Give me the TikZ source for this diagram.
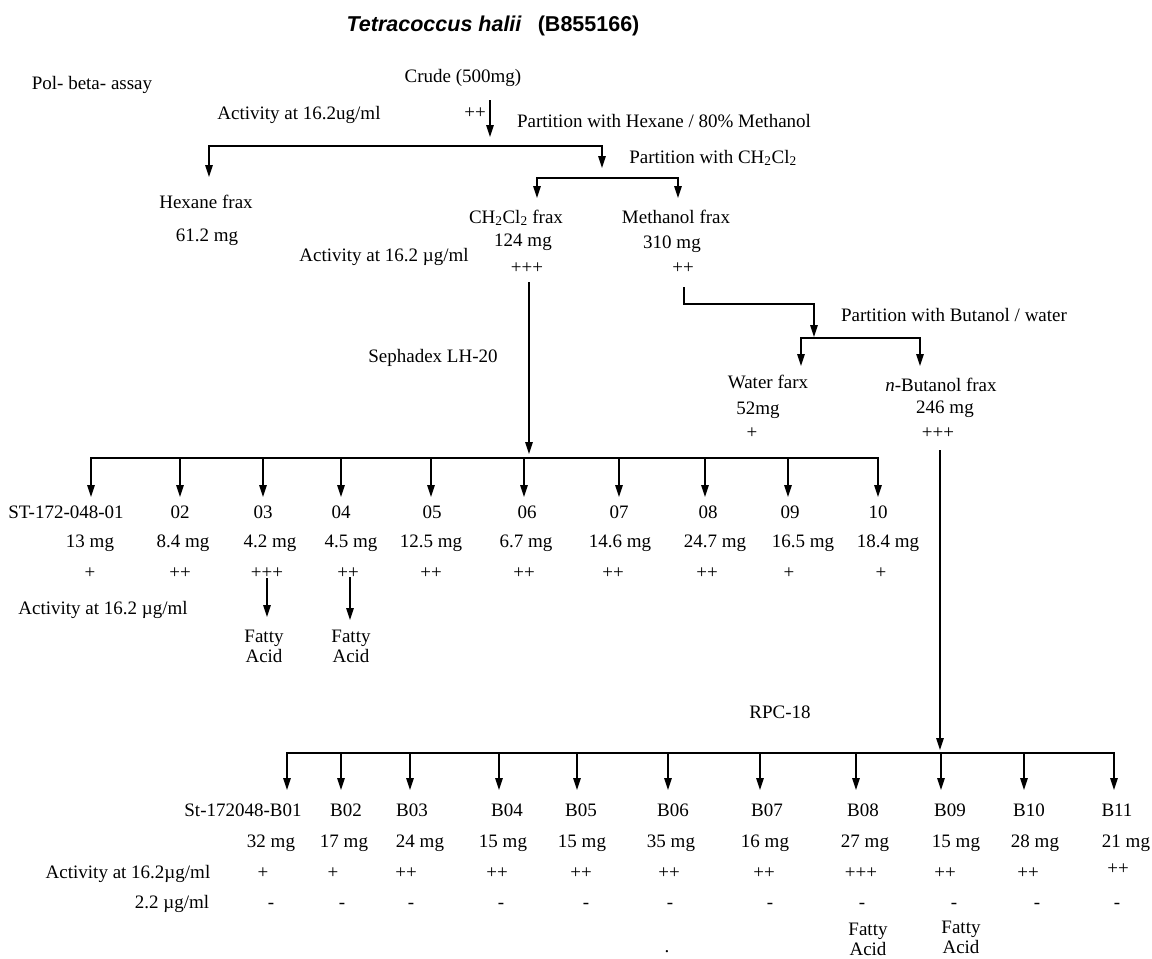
\documentclass[tikz,border=0pt]{standalone}
\usepackage{fontspec}
\setmainfont{Liberation Serif}
\newfontfamily\titlefont{Liberation Sans}
\usetikzlibrary{arrows.meta}
\begin{document}
\begin{tikzpicture}[x=1pt,y=-1pt,
  lbl/.style={inner sep=0pt,anchor=base,font=\fontsize{19}{20}\selectfont},
  two/.style={inner sep=0pt,align=center,anchor=north,font=\fontsize{19}{20}\selectfont},
  ln/.style={line width=1.5pt},
  hl/.style={line width=1.5pt,line cap=rect},
  arr/.style={line width=1.5pt,-{Triangle[length=12pt,width=7.5pt]}}]
\useasboundingbox (0,0) rectangle (1152,959);
% title
\node[inner sep=0pt,anchor=base,font=\titlefont\fontsize{21.5}{24}\selectfont\bfseries] (title) at (493,31) {\textit{Tetracoccus halii}\hspace{16pt}(B855166)};
% top part
\node[lbl] (pol) at (92,89) {Pol- beta- assay};
\node[lbl] (crude) at (463,82) {Crude (500mg)};
\node[lbl] (act1) at (299,119) {Activity at 16.2ug/ml};
\node[lbl] (crudepl) at (475,118) {++};
\node[lbl] (part1) at (664,127) {Partition with Hexane / 80\% Methanol};
\coordinate (c0) at (490,100);
\coordinate (c1) at (490,137);
\draw[arr] (c0) -- (c1);
\coordinate (hL) at (209,146);
\coordinate (hR) at (602,146);
\draw[hl] (hL) -- (hR);
\coordinate (hLt) at (209,177);
\coordinate (hRt) at (602,168);
\draw[arr] (hL) -- (hLt);
\draw[arr] (hR) -- (hRt);
\node[lbl] (part2) at (713,163) {Partition with CH\textsubscript{2}Cl\textsubscript{2}};
\coordinate (dL) at (537,178);
\coordinate (dR) at (678,178);
\draw[hl] (dL) -- (dR);
\coordinate (dLt) at (537,198);
\coordinate (dRt) at (678,198);
\draw[arr] (dL) -- (dLt);
\draw[arr] (dR) -- (dRt);
\node[lbl] (hex) at (206,208) {Hexane frax};
\node[lbl] (hexmg) at (207,241) {61.2 mg};
\node[lbl] (ch) at (516,223) {CH\textsubscript{2}Cl\textsubscript{2} frax};
\node[lbl] (chmg) at (523,246) {124 mg};
\node[lbl] (meth) at (676,223) {Methanol frax};
\node[lbl] (methmg) at (672,248) {310 mg};
\node[lbl] (act2) at (384,261) {Activity at 16.2 µg/ml};
\node[lbl] (chpl) at (527,273) {+++};
\node[lbl] (methpl) at (683,273) {++};
\node[lbl] (seph) at (433,362) {Sephadex LH-20};
\coordinate (v0) at (529,282);
\coordinate (v1) at (529,454);
\draw[arr] (v0) -- (v1);
% methanol -> butanol partition
\coordinate (m0) at (684,287);
\coordinate (m1) at (684,304);
\coordinate (m2) at (814,304);
\coordinate (m3) at (814,337);
\draw[arr] (m0) -- (m1) -- (m2) -- (m3);
\node[lbl] (part3) at (954,321) {Partition with Butanol / water};
\coordinate (bL) at (801,338);
\coordinate (bR) at (920,338);
\draw[hl] (bL) -- (bR);
\coordinate (bLt) at (801,366);
\coordinate (bRt) at (920,366);
\draw[arr] (bL) -- (bLt);
\draw[arr] (bR) -- (bRt);
\node[lbl] (water) at (768,388) {Water farx};
\node[lbl] (watermg) at (758,414) {52mg};
\node[lbl] (waterpl) at (752,438) {+};
\node[lbl] (nbut) at (941,391) {\textit{n}-Butanol frax};
\node[lbl] (nbutmg) at (945,413) {246 mg};
\node[lbl] (nbutpl) at (938,438) {+++};
\coordinate (n0) at (940,450);
\coordinate (n1) at (940,750);
\draw[arr] (n0) -- (n1);
% Sephadex fractions
\foreach \i/\ax/\lx/\lab/\mx/\mg/\px/\pl in {
 1/91/66/ST-172-048-01/90/13 mg/90/+,
 2/180/180/02/183/8.4 mg/180/++,
 3/263/263/03/270/4.2 mg/267/+++,
 4/341/341/04/351/4.5 mg/348/++,
 5/431/432/05/431/12.5 mg/431/++,
 6/524/527/06/526/6.7 mg/524/++,
 7/619/619/07/620/14.6 mg/613/++,
 8/705/708/08/715/24.7 mg/707/++,
 9/788/790/09/803/16.5 mg/789/+,
 10/878/878/10/888/18.4 mg/881/+}{
 \coordinate (sj\i) at (\ax,458);
 \coordinate (st\i) at (\ax,497);
 \draw[arr] (sj\i) -- (st\i);
 \node[lbl] (sl\i) at (\lx,518) {\lab};
 \node[lbl] (sm\i) at (\mx,547) {\mg};
 \node[lbl] (sp\i) at (\px,578) {\pl};
}
\draw[hl] (sj1) -- (sj10);
\node[lbl] (act3) at (103,614) {Activity at 16.2 µg/ml};
\coordinate (f3a) at (267,578);
\coordinate (f3b) at (267,617);
\draw[arr] (f3a) -- (f3b);
\coordinate (f4a) at (350,577);
\coordinate (f4b) at (350,620);
\draw[arr] (f4a) -- (f4b);
\node[two] (fa3) at (264,630) {Fatty\\Acid};
\node[two] (fa4) at (351,630) {Fatty\\Acid};
% RPC-18 fractions
\node[lbl] (rpc) at (780,718) {RPC-18};
\foreach \i/\ax/\lx/\lab/\mx/\mg/\px/\pl/\py/\dx in {
 1/287/243/St-172048-B01/271/32 mg/263/+/878/271,
 2/341/346/B02/344/17 mg/333/+/878/342,
 3/410/412/B03/420/24 mg/406/++/878/411,
 4/499/507/B04/503/15 mg/497/++/878/501,
 5/577/581/B05/582/15 mg/581/++/878/586,
 6/668/673/B06/671/35 mg/669/++/878/670,
 7/760/767/B07/765/16 mg/764/++/878/770,
 8/856/863/B08/865/27 mg/861/+++/878/862,
 9/941/950/B09/956/15 mg/945/++/878/954,
 10/1024/1029/B10/1035/28 mg/1028/++/878/1037,
 11/1114/1117/B11/1126/21 mg/1118/++/874/1117}{
 \coordinate (rj\i) at (\ax,753);
 \coordinate (rt\i) at (\ax,790);
 \draw[arr] (rj\i) -- (rt\i);
 \node[lbl] (rl\i) at (\lx,816) {\lab};
 \node[lbl] (rm\i) at (\mx,847) {\mg};
 \node[lbl] (rp\i) at (\px,\py) {\pl};
 \node[lbl] (rd\i) at (\dx,908) {-};
}
\draw[hl] (rj1) -- (rj11);
\node[lbl] (act4) at (128,878) {Activity at 16.2µg/ml};
\node[lbl] (conc) at (172,908) {2.2 µg/ml};
\node[two] (fa8) at (868,923) {Fatty\\Acid};
\node[two] (fa9) at (961,921) {Fatty\\Acid};
\node[lbl] (dot) at (667,952) {.};
\end{tikzpicture}
\end{document}
